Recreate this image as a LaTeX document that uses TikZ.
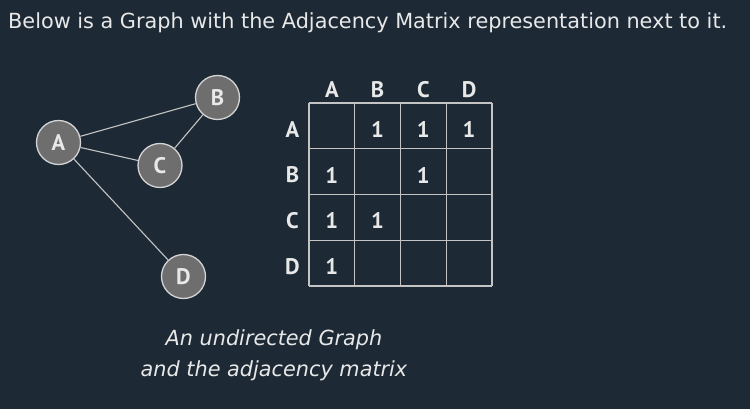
\documentclass[tikz,border=0pt]{standalone}
\usepackage{fontspec}
\setmainfont{DejaVu Sans}
\newfontfamily\labelfont{PT Sans}
\usetikzlibrary{positioning}

\definecolor{bgdark}{HTML}{1D2A35}
\definecolor{vertexgray}{HTML}{6E6E6E}
\definecolor{vertexline}{HTML}{D4D4D4}
\definecolor{edgegray}{HTML}{C4C4C4}
\definecolor{textwhite}{HTML}{E8E8E8}

\begin{document}
\begin{tikzpicture}[
    x=1pt, y=-1pt,
    vertex/.style={circle, draw=vertexline, fill=vertexgray, line width=1.3pt, minimum size=44pt, inner sep=0pt, text=textwhite, font=\labelfont\bfseries\fontsize{22.5}{22.5}\selectfont},
    edge/.style={draw=edgegray, line width=1.1pt},
    gridline/.style={draw=edgegray, line width=1.4pt},
    header/.style={text=textwhite, inner sep=0pt, font=\labelfont\bfseries\fontsize{22.5}{22.5}\selectfont},
    entry/.style={text=textwhite, inner sep=0pt, font=\labelfont\bfseries\fontsize{22.5}{22.5}\selectfont},
    title/.style={text=textwhite, inner sep=0pt, anchor=base west, font=\fontsize{20.8}{24}\selectfont},
    caption/.style={text=textwhite, inner sep=0pt, align=center, font=\itshape\fontsize{20.8}{31}\selectfont}
]

% Background
\path[fill=bgdark, use as bounding box] (0,0) rectangle (750,409);

% Title
\node[title] (heading) at (8,29) {Below is a Graph with the Adjacency Matrix representation next to it.};

% Graph vertices
\node[vertex] (A) at (58.5,142.5) {A};
\node[vertex] (B) at (217.5,97.5) {B};
\node[vertex] (C) at (160,165.5) {C};
\node[vertex] (D) at (183.5,276.5) {D};

% Graph edges
\draw[edge] (A) -- (B);
\draw[edge] (A) -- (C);
\draw[edge] (A) -- (D);
\draw[edge] (B) -- (C);

% Matrix grid
\foreach \k in {0,...,4} {
    \draw[gridline] (309+45.75*\k,103) -- (309+45.75*\k,286);
    \draw[gridline] (309,103+45.75*\k) -- (492,103+45.75*\k);
}

% Row and column headers
\foreach \l [count=\i] in {A,B,C,D} {
    \node[header] (col\l) at (309+45.75*\i-22.9,89.5) {\l};
    \node[header] (row\l) at (292.5,103+45.75*\i-19.4) {\l};
}

% Matrix entries
\foreach \r/\c in {1/2,1/3,1/4,2/1,2/3,3/1,3/2,4/1} {
    \node[entry] (m\r\c) at (309+45.75*\c-22.9,103+45.75*\r-19.4) {1};
}

% Caption
\node[caption] (note) at (274,355) {An undirected Graph\\and the adjacency matrix};

\end{tikzpicture}
\end{document}
